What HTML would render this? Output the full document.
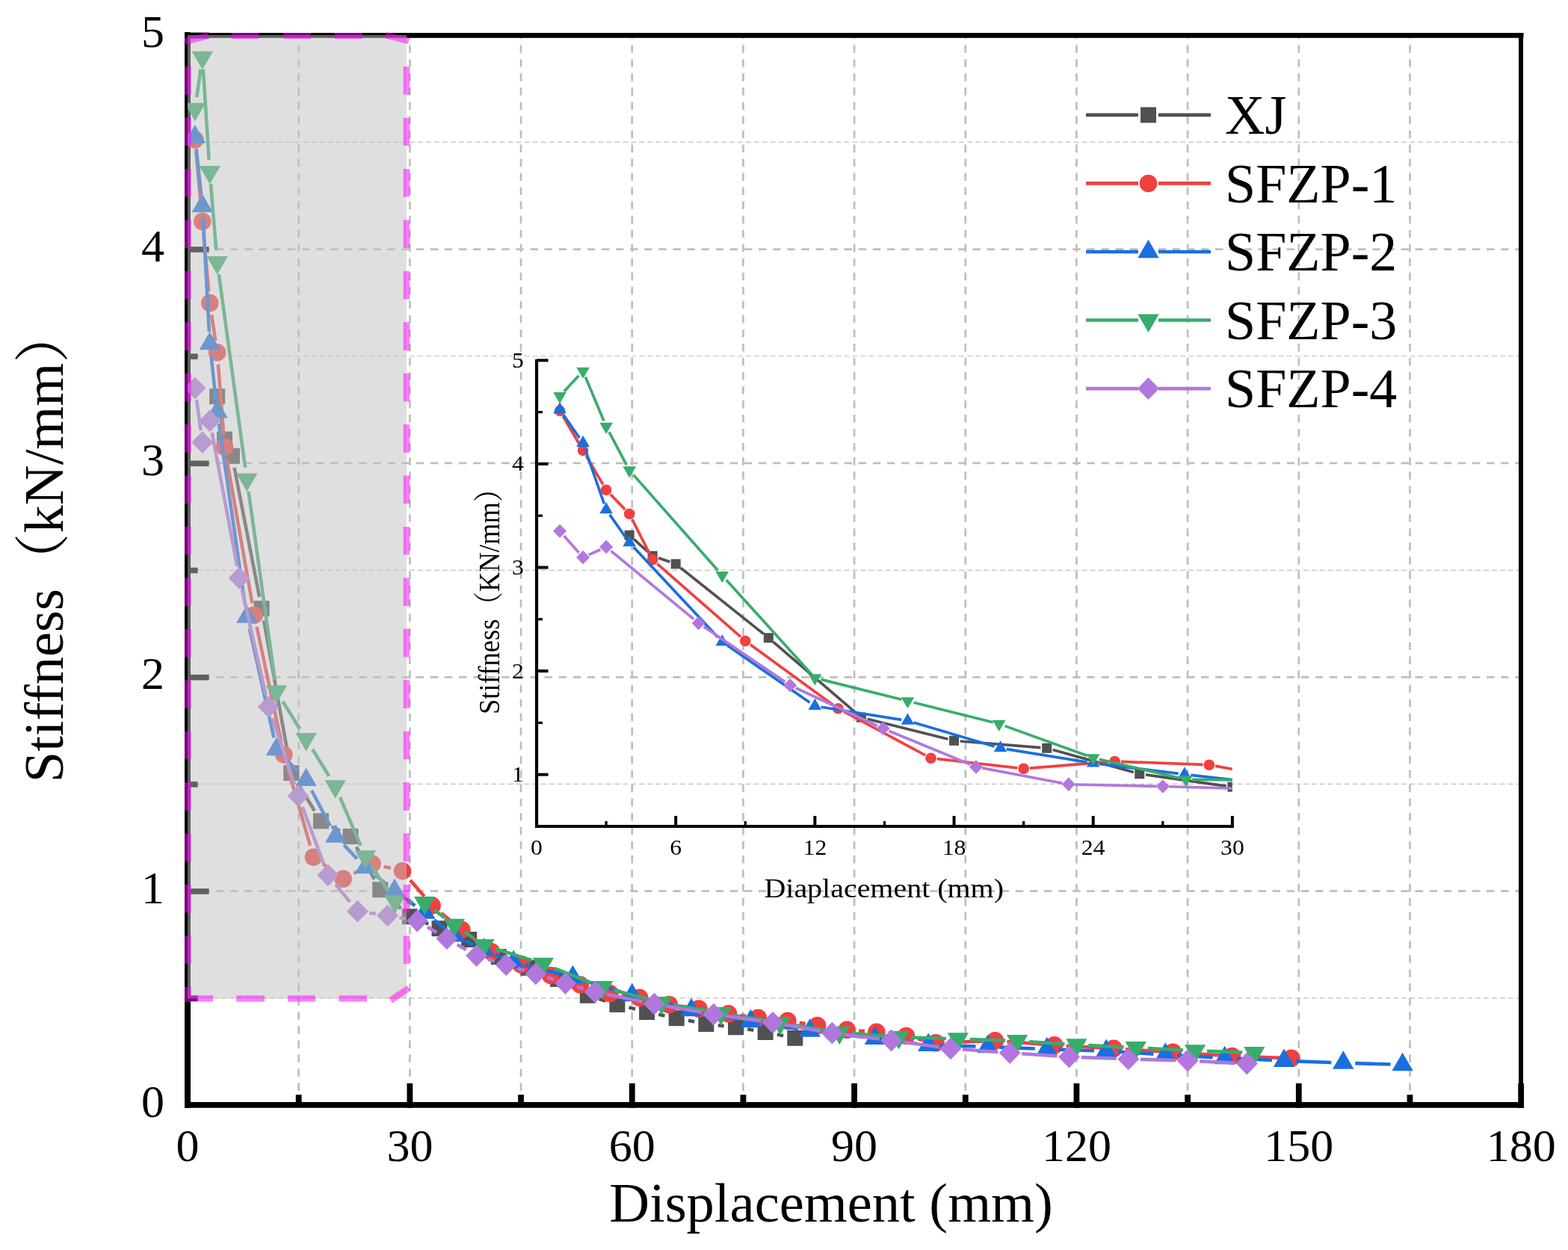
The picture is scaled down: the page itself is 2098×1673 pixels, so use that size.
<!DOCTYPE html>
<html lang="en"><head><meta charset="utf-8"><title>Stiffness vs Displacement</title>
<style>html,body{margin:0;padding:0;background:#fff;}body{width:2098px;height:1673px;overflow:hidden;}svg{display:block;}text{font-family:"Liberation Serif","Noto Serif CJK SC",serif;fill:#000;}</style></head><body>
<svg width="2098" height="1673" viewBox="0 0 2098 1673" role="img" aria-label="Stiffness versus displacement chart">
<rect width="2098" height="1673" fill="#fff"/>
<defs>
<clipPath id="cm"><rect x="251" y="47" width="1784" height="1432"/></clipPath>
<clipPath id="ci"><rect x="718.0" y="470" width="930.80" height="636.0"/></clipPath>
</defs>
<g id="grid"><line x1="399.68" y1="1479" x2="399.68" y2="47" stroke="#BEBEBE" stroke-width="2.7" stroke-dasharray="10.5 8.53"/>
<line x1="548.36" y1="1479" x2="548.36" y2="47" stroke="#BEBEBE" stroke-width="2.7" stroke-dasharray="10.5 8.53"/>
<line x1="697.04" y1="1479" x2="697.04" y2="47" stroke="#BEBEBE" stroke-width="2.7" stroke-dasharray="10.5 8.53"/>
<line x1="845.72" y1="1479" x2="845.72" y2="47" stroke="#BEBEBE" stroke-width="2.7" stroke-dasharray="10.5 8.53"/>
<line x1="994.40" y1="1479" x2="994.40" y2="47" stroke="#BEBEBE" stroke-width="2.7" stroke-dasharray="10.5 8.53"/>
<line x1="1143.08" y1="1479" x2="1143.08" y2="47" stroke="#BEBEBE" stroke-width="2.7" stroke-dasharray="10.5 8.53"/>
<line x1="1291.76" y1="1479" x2="1291.76" y2="47" stroke="#BEBEBE" stroke-width="2.7" stroke-dasharray="10.5 8.53"/>
<line x1="1440.44" y1="1479" x2="1440.44" y2="47" stroke="#BEBEBE" stroke-width="2.7" stroke-dasharray="10.5 8.53"/>
<line x1="1589.12" y1="1479" x2="1589.12" y2="47" stroke="#BEBEBE" stroke-width="2.7" stroke-dasharray="10.5 8.53"/>
<line x1="1737.80" y1="1479" x2="1737.80" y2="47" stroke="#BEBEBE" stroke-width="2.7" stroke-dasharray="10.5 8.53"/>
<line x1="1886.48" y1="1479" x2="1886.48" y2="47" stroke="#BEBEBE" stroke-width="2.7" stroke-dasharray="10.5 8.53"/>
<line x1="251" y1="1335.82" x2="2035" y2="1335.82" stroke="#BEBEBE" stroke-width="1.2" stroke-dasharray="6.7 4.27" stroke-dashoffset="-1"/>
<line x1="251" y1="1192.64" x2="2035" y2="1192.64" stroke="#BEBEBE" stroke-width="2.7" stroke-dasharray="10.4 8.7"/>
<line x1="251" y1="1049.46" x2="2035" y2="1049.46" stroke="#BEBEBE" stroke-width="1.2" stroke-dasharray="6.7 4.27" stroke-dashoffset="-1"/>
<line x1="251" y1="906.28" x2="2035" y2="906.28" stroke="#BEBEBE" stroke-width="2.7" stroke-dasharray="10.4 8.7"/>
<line x1="251" y1="763.10" x2="2035" y2="763.10" stroke="#BEBEBE" stroke-width="1.2" stroke-dasharray="6.7 4.27" stroke-dashoffset="-1"/>
<line x1="251" y1="619.92" x2="2035" y2="619.92" stroke="#BEBEBE" stroke-width="2.7" stroke-dasharray="10.4 8.7"/>
<line x1="251" y1="476.74" x2="2035" y2="476.74" stroke="#BEBEBE" stroke-width="1.2" stroke-dasharray="6.7 4.27" stroke-dashoffset="-1"/>
<line x1="251" y1="333.56" x2="2035" y2="333.56" stroke="#BEBEBE" stroke-width="2.7" stroke-dasharray="10.4 8.7"/>
<line x1="251" y1="190.38" x2="2035" y2="190.38" stroke="#BEBEBE" stroke-width="1.2" stroke-dasharray="6.7 4.27" stroke-dashoffset="-1"/></g>
<g id="axes"><path d="M251 43V1482.6" stroke="#000" stroke-width="8" fill="none"/>
<path d="M247 47.45H2038.5" stroke="#000" stroke-width="6.7" fill="none"/>
<path d="M2035 44.1V1482.7" stroke="#000" stroke-width="6" fill="none"/>
<path d="M247 1478.9H2038.9" stroke="#000" stroke-width="7.75" fill="none"/>
<line x1="251.00" y1="1482.75" x2="251.00" y2="1450" stroke="#000" stroke-width="7.8"/>
<line x1="399.68" y1="1479" x2="399.68" y2="1465.2" stroke="#000" stroke-width="7.8"/>
<line x1="548.36" y1="1482.75" x2="548.36" y2="1450" stroke="#000" stroke-width="7.8"/>
<line x1="697.04" y1="1479" x2="697.04" y2="1465.2" stroke="#000" stroke-width="7.8"/>
<line x1="845.72" y1="1482.75" x2="845.72" y2="1450" stroke="#000" stroke-width="7.8"/>
<line x1="994.40" y1="1479" x2="994.40" y2="1465.2" stroke="#000" stroke-width="7.8"/>
<line x1="1143.08" y1="1482.75" x2="1143.08" y2="1450" stroke="#000" stroke-width="7.8"/>
<line x1="1291.76" y1="1479" x2="1291.76" y2="1465.2" stroke="#000" stroke-width="7.8"/>
<line x1="1440.44" y1="1482.75" x2="1440.44" y2="1450" stroke="#000" stroke-width="7.8"/>
<line x1="1589.12" y1="1479" x2="1589.12" y2="1465.2" stroke="#000" stroke-width="7.8"/>
<line x1="1737.80" y1="1482.75" x2="1737.80" y2="1450" stroke="#000" stroke-width="7.8"/>
<line x1="1886.48" y1="1479" x2="1886.48" y2="1465.2" stroke="#000" stroke-width="7.8"/>
<line x1="2035.16" y1="1482.75" x2="2035.16" y2="1450" stroke="#000" stroke-width="7.8"/>
<line x1="251" y1="1336.22" x2="264.6" y2="1336.22" stroke="#000" stroke-width="7.6"/>
<line x1="251" y1="1193.04" x2="279.6" y2="1193.04" stroke="#000" stroke-width="7.6"/>
<line x1="251" y1="1049.86" x2="264.6" y2="1049.86" stroke="#000" stroke-width="7.6"/>
<line x1="251" y1="906.68" x2="279.6" y2="906.68" stroke="#000" stroke-width="7.6"/>
<line x1="251" y1="763.50" x2="264.6" y2="763.50" stroke="#000" stroke-width="7.6"/>
<line x1="251" y1="620.32" x2="279.6" y2="620.32" stroke="#000" stroke-width="7.6"/>
<line x1="251" y1="477.14" x2="264.6" y2="477.14" stroke="#000" stroke-width="7.6"/>
<line x1="251" y1="333.96" x2="279.6" y2="333.96" stroke="#000" stroke-width="7.6"/>
<line x1="251" y1="190.78" x2="264.6" y2="190.78" stroke="#000" stroke-width="7.6"/>
<line x1="251" y1="47.60" x2="279.6" y2="47.60" stroke="#000" stroke-width="8"/></g>
<g id="main-series" clip-path="url(#cm)">
<path d="M293.37 546.43L297.84 572.34M313.52 625.92L347.07 798.84M352.96 830.29L386.93 1018.84M398.17 1048.20L421.01 1085.22M443.61 1106.23L454.87 1112.11M476.84 1133.48L500.93 1176.80M520.56 1201.53L536.51 1215.98M563.20 1232.71L573.17 1236.72M603.00 1248.30L612.67 1251.90M641.48 1265.55L653.48 1272.55M682.31 1286.16L691.95 1289.74M721.90 1300.99L731.65 1304.71M760.61 1318.14L772.24 1324.56M801.55 1336.97L810.59 1339.73M841.40 1348.35L850.04 1350.55M881.21 1357.74L889.52 1359.46M920.88 1365.83L929.15 1367.47M960.75 1372.29L968.58 1373.11M1000.26 1377.47L1008.36 1378.83M1039.84 1384.59L1048.08 1386.21" stroke="#515151" stroke-width="4.6" fill="none"/>
<rect x="280.15" y="520.16" width="21.00" height="21.00" fill="#515151"/>
<rect x="290.06" y="577.60" width="21.00" height="21.00" fill="#515151"/>
<rect x="299.97" y="599.71" width="21.00" height="21.00" fill="#515151"/>
<rect x="339.62" y="804.05" width="21.00" height="21.00" fill="#515151"/>
<rect x="379.27" y="1024.08" width="21.00" height="21.00" fill="#515151"/>
<rect x="418.92" y="1088.34" width="21.00" height="21.00" fill="#515151"/>
<rect x="458.56" y="1109.00" width="21.00" height="21.00" fill="#515151"/>
<rect x="498.21" y="1180.28" width="21.00" height="21.00" fill="#515151"/>
<rect x="537.86" y="1216.23" width="21.00" height="21.00" fill="#515151"/>
<rect x="577.51" y="1232.20" width="21.00" height="21.00" fill="#515151"/>
<rect x="617.16" y="1247.00" width="21.00" height="21.00" fill="#515151"/>
<rect x="656.80" y="1270.10" width="21.00" height="21.00" fill="#515151"/>
<rect x="696.45" y="1284.80" width="21.00" height="21.00" fill="#515151"/>
<rect x="736.10" y="1299.90" width="21.00" height="21.00" fill="#515151"/>
<rect x="775.75" y="1321.80" width="21.00" height="21.00" fill="#515151"/>
<rect x="815.40" y="1333.90" width="21.00" height="21.00" fill="#515151"/>
<rect x="855.04" y="1344.00" width="21.00" height="21.00" fill="#515151"/>
<rect x="894.69" y="1352.20" width="21.00" height="21.00" fill="#515151"/>
<rect x="934.34" y="1360.10" width="21.00" height="21.00" fill="#515151"/>
<rect x="973.99" y="1364.30" width="21.00" height="21.00" fill="#515151"/>
<rect x="1013.64" y="1371.00" width="21.00" height="21.00" fill="#515151"/>
<rect x="1053.28" y="1378.80" width="21.00" height="21.00" fill="#515151"/>
<path d="M262.35 202.80L269.38 280.44M272.27 312.30L279.29 389.73M283.11 421.49L288.28 455.96M291.90 487.73L299.31 582.48M303.34 614.19L337.43 807.47M343.53 838.87L376.53 994.35M384.30 1025.37L415.06 1131.82M432.40 1156.66L446.26 1166.84M473.35 1168.94L483.91 1163.45M513.66 1159.81L522.89 1162.04M548.87 1177.92L567.68 1199.86M590.49 1222.12L605.35 1234.28M630.61 1253.91L644.52 1264.19M672.07 1280.07L682.36 1284.53M712.05 1296.43L721.67 1299.97M751.95 1310.31L761.08 1313.19M791.69 1322.49L800.63 1325.11M831.82 1331.92L839.80 1333.08M871.22 1339.02L879.69 1340.98M911.13 1346.80L919.08 1347.90M950.70 1352.77L958.80 1354.13M990.43 1358.96L998.37 1360.04M1030.13 1363.89L1037.96 1364.71M1069.68 1368.87L1077.71 1370.13M1109.36 1374.88L1117.33 1376.02M1149.12 1379.55L1156.86 1380.15M1188.69 1383.44L1196.59 1384.46M1228.04 1390.15L1236.53 1392.15M1268.10 1395.20L1315.42 1393.40M1347.36 1394.01L1394.75 1397.59M1426.68 1399.73L1474.03 1402.47M1505.97 1404.37L1553.33 1407.23M1585.26 1409.27L1632.63 1412.43M1664.58 1414.06L1711.90 1415.74" stroke="#F14040" stroke-width="4.6" fill="none"/>
<circle cx="260.91" cy="186.87" r="11.80" fill="#F14040"/>
<circle cx="270.82" cy="296.37" r="11.80" fill="#F14040"/>
<circle cx="280.74" cy="405.67" r="11.80" fill="#F14040"/>
<circle cx="290.65" cy="471.78" r="11.80" fill="#F14040"/>
<circle cx="300.56" cy="598.43" r="11.80" fill="#F14040"/>
<circle cx="340.21" cy="823.22" r="11.80" fill="#F14040"/>
<circle cx="379.86" cy="1010.00" r="11.80" fill="#F14040"/>
<circle cx="419.50" cy="1147.19" r="11.80" fill="#F14040"/>
<circle cx="459.15" cy="1176.32" r="11.80" fill="#F14040"/>
<circle cx="498.11" cy="1156.07" r="11.80" fill="#F14040"/>
<circle cx="538.45" cy="1165.78" r="11.80" fill="#F14040"/>
<circle cx="578.10" cy="1212.00" r="11.80" fill="#F14040"/>
<circle cx="617.74" cy="1244.40" r="11.80" fill="#F14040"/>
<circle cx="657.39" cy="1273.70" r="11.80" fill="#F14040"/>
<circle cx="697.04" cy="1290.90" r="11.80" fill="#F14040"/>
<circle cx="736.69" cy="1305.50" r="11.80" fill="#F14040"/>
<circle cx="776.34" cy="1318.00" r="11.80" fill="#F14040"/>
<circle cx="815.98" cy="1329.60" r="11.80" fill="#F14040"/>
<circle cx="855.63" cy="1335.40" r="11.80" fill="#F14040"/>
<circle cx="895.28" cy="1344.60" r="11.80" fill="#F14040"/>
<circle cx="934.93" cy="1350.10" r="11.80" fill="#F14040"/>
<circle cx="974.58" cy="1356.80" r="11.80" fill="#F14040"/>
<circle cx="1014.22" cy="1362.20" r="11.80" fill="#F14040"/>
<circle cx="1053.87" cy="1366.40" r="11.80" fill="#F14040"/>
<circle cx="1093.52" cy="1372.60" r="11.80" fill="#F14040"/>
<circle cx="1133.17" cy="1378.30" r="11.80" fill="#F14040"/>
<circle cx="1172.82" cy="1381.40" r="11.80" fill="#F14040"/>
<circle cx="1212.46" cy="1386.50" r="11.80" fill="#F14040"/>
<circle cx="1252.11" cy="1395.80" r="11.80" fill="#F14040"/>
<circle cx="1331.41" cy="1392.80" r="11.80" fill="#F14040"/>
<circle cx="1410.70" cy="1398.80" r="11.80" fill="#F14040"/>
<circle cx="1490.00" cy="1403.40" r="11.80" fill="#F14040"/>
<circle cx="1569.30" cy="1408.20" r="11.80" fill="#F14040"/>
<circle cx="1648.59" cy="1413.50" r="11.80" fill="#F14040"/>
<circle cx="1727.89" cy="1416.30" r="11.80" fill="#F14040"/>
<path d="M262.62 199.26L269.12 259.80M271.68 291.69L279.88 444.03M282.46 475.91L288.92 535.42M292.94 567.16L328.01 809.87M333.79 841.32L366.45 987.36M381.08 1014.46L398.46 1032.39M417.02 1058.05L441.81 1105.33M460.29 1131.07L477.84 1149.46M501.42 1170.97L515.41 1182.07M540.83 1201.50L555.29 1212.12M580.82 1231.42L595.20 1242.58M622.26 1259.31L633.05 1264.49M662.25 1277.55L672.36 1281.75M702.64 1291.83L750.91 1304.07M781.74 1312.63L830.41 1327.37M861.23 1335.91L909.50 1348.09M940.74 1354.97L988.59 1364.03M1020.11 1369.51L1067.81 1377.09M1099.50 1381.48L1154.94 1388.02M1186.71 1391.88L1226.32 1396.82M1258.19 1399.24L1305.50 1400.56M1337.48 1401.65L1384.81 1403.55M1416.78 1404.72L1464.10 1406.28M1496.06 1407.77L1543.41 1410.63M1575.36 1412.49L1622.70 1415.11M1654.66 1416.77L1701.99 1419.03M1733.97 1420.38L1781.28 1422.12M1813.27 1423.16L1860.57 1424.54" stroke="#1A6FDF" stroke-width="4.6" fill="none"/>
<polygon points="260.91,167.02 246.71,191.52 275.11,191.52" fill="#1A6FDF"/>
<polygon points="270.82,259.38 256.62,283.88 285.02,283.88" fill="#1A6FDF"/>
<polygon points="280.74,443.67 266.54,468.17 294.94,468.17" fill="#1A6FDF"/>
<polygon points="290.65,534.99 276.45,559.49 304.85,559.49" fill="#1A6FDF"/>
<polygon points="330.30,809.37 316.10,833.87 344.50,833.87" fill="#1A6FDF"/>
<polygon points="369.94,986.64 355.74,1011.14 384.14,1011.14" fill="#1A6FDF"/>
<polygon points="409.59,1027.55 395.39,1052.05 423.79,1052.05" fill="#1A6FDF"/>
<polygon points="449.24,1103.17 435.04,1127.67 463.44,1127.67" fill="#1A6FDF"/>
<polygon points="488.89,1144.70 474.69,1169.20 503.09,1169.20" fill="#1A6FDF"/>
<polygon points="527.94,1175.69 513.74,1200.19 542.14,1200.19" fill="#1A6FDF"/>
<polygon points="568.18,1205.27 553.98,1229.77 582.38,1229.77" fill="#1A6FDF"/>
<polygon points="607.83,1236.07 593.63,1260.57 622.03,1260.57" fill="#1A6FDF"/>
<polygon points="647.48,1255.07 633.28,1279.57 661.68,1279.57" fill="#1A6FDF"/>
<polygon points="687.13,1271.57 672.93,1296.07 701.33,1296.07" fill="#1A6FDF"/>
<polygon points="766.42,1291.67 752.22,1316.17 780.62,1316.17" fill="#1A6FDF"/>
<polygon points="845.72,1315.67 831.52,1340.17 859.92,1340.17" fill="#1A6FDF"/>
<polygon points="925.02,1335.67 910.82,1360.17 939.22,1360.17" fill="#1A6FDF"/>
<polygon points="1004.31,1350.67 990.11,1375.17 1018.51,1375.17" fill="#1A6FDF"/>
<polygon points="1083.61,1363.27 1069.41,1387.77 1097.81,1387.77" fill="#1A6FDF"/>
<polygon points="1170.83,1373.57 1156.63,1398.07 1185.03,1398.07" fill="#1A6FDF"/>
<polygon points="1242.20,1382.47 1228.00,1406.97 1256.40,1406.97" fill="#1A6FDF"/>
<polygon points="1321.50,1384.67 1307.30,1409.17 1335.70,1409.17" fill="#1A6FDF"/>
<polygon points="1400.79,1387.87 1386.59,1412.37 1414.99,1412.37" fill="#1A6FDF"/>
<polygon points="1480.09,1390.47 1465.89,1414.97 1494.29,1414.97" fill="#1A6FDF"/>
<polygon points="1559.38,1395.27 1545.18,1419.77 1573.58,1419.77" fill="#1A6FDF"/>
<polygon points="1638.68,1399.67 1624.48,1424.17 1652.88,1424.17" fill="#1A6FDF"/>
<polygon points="1717.98,1403.47 1703.78,1427.97 1732.18,1427.97" fill="#1A6FDF"/>
<polygon points="1797.27,1406.37 1783.07,1430.87 1811.47,1430.87" fill="#1A6FDF"/>
<polygon points="1876.57,1408.67 1862.37,1433.17 1890.77,1433.17" fill="#1A6FDF"/>
<path d="M263.19 130.12L268.55 92.79M271.86 92.92L279.70 214.29M282.04 246.20L289.34 335.18M292.81 366.97L328.13 625.76M332.51 657.46L367.73 909.65M378.40 939.07L401.13 975.55M418.00 1002.74L440.24 1038.74M454.94 1067.06L482.59 1131.65M497.70 1159.72L519.73 1193.13M544.52 1207.13L552.20 1207.45M580.97 1217.71L595.04 1228.29M621.03 1246.95L634.29 1256.05M662.75 1269.89L711.51 1285.21M741.66 1295.86L791.18 1315.34M821.54 1325.30L869.90 1338.10M901.13 1344.96L948.90 1353.34M980.45 1358.69L1028.17 1366.51M1059.76 1371.63L1107.46 1379.27M1139.21 1383.07L1186.60 1386.83M1218.55 1388.56L1265.85 1389.94M1297.84 1390.96L1345.15 1392.64M1377.11 1394.25L1424.47 1397.35M1456.42 1399.17L1503.75 1401.43M1535.71 1403.03L1583.05 1405.47M1615.02 1406.86L1662.34 1408.54" stroke="#37AD6B" stroke-width="4.6" fill="none"/>
<polygon points="260.91,162.29 246.71,137.79 275.11,137.79" fill="#37AD6B"/>
<polygon points="270.82,93.29 256.62,68.79 285.02,68.79" fill="#37AD6B"/>
<polygon points="280.74,246.59 266.54,222.09 294.94,222.09" fill="#37AD6B"/>
<polygon points="290.65,367.46 276.45,342.96 304.85,342.96" fill="#37AD6B"/>
<polygon points="330.30,657.95 316.10,633.45 344.50,633.45" fill="#37AD6B"/>
<polygon points="369.94,941.83 355.74,917.33 384.14,917.33" fill="#37AD6B"/>
<polygon points="409.59,1005.46 395.39,980.96 423.79,980.96" fill="#37AD6B"/>
<polygon points="448.65,1068.69 434.45,1044.19 462.85,1044.19" fill="#37AD6B"/>
<polygon points="488.89,1162.69 474.69,1138.19 503.09,1138.19" fill="#37AD6B"/>
<polygon points="528.54,1222.82 514.34,1198.32 542.74,1198.32" fill="#37AD6B"/>
<polygon points="568.18,1224.43 553.98,1199.93 582.38,1199.93" fill="#37AD6B"/>
<polygon points="607.83,1254.23 593.63,1229.73 622.03,1229.73" fill="#37AD6B"/>
<polygon points="647.48,1281.43 633.28,1256.93 661.68,1256.93" fill="#37AD6B"/>
<polygon points="726.78,1306.33 712.58,1281.83 740.98,1281.83" fill="#37AD6B"/>
<polygon points="806.07,1337.53 791.87,1313.03 820.27,1313.03" fill="#37AD6B"/>
<polygon points="885.37,1358.53 871.17,1334.03 899.57,1334.03" fill="#37AD6B"/>
<polygon points="964.66,1372.43 950.46,1347.93 978.86,1347.93" fill="#37AD6B"/>
<polygon points="1043.96,1385.43 1029.76,1360.93 1058.16,1360.93" fill="#37AD6B"/>
<polygon points="1123.26,1398.13 1109.06,1373.63 1137.46,1373.63" fill="#37AD6B"/>
<polygon points="1202.55,1404.43 1188.35,1379.93 1216.75,1379.93" fill="#37AD6B"/>
<polygon points="1281.85,1406.73 1267.65,1382.23 1296.05,1382.23" fill="#37AD6B"/>
<polygon points="1361.14,1409.53 1346.94,1385.03 1375.34,1385.03" fill="#37AD6B"/>
<polygon points="1440.44,1414.73 1426.24,1390.23 1454.64,1390.23" fill="#37AD6B"/>
<polygon points="1519.74,1418.53 1505.54,1394.03 1533.94,1394.03" fill="#37AD6B"/>
<polygon points="1599.03,1422.63 1584.83,1398.13 1613.23,1398.13" fill="#37AD6B"/>
<polygon points="1678.33,1425.43 1664.13,1400.93 1692.53,1400.93" fill="#37AD6B"/>
<path d="M263.07 535.15L268.66 576.17M283.69 579.03L317.24 757.91M323.73 789.24L355.79 930.35M364.40 961.13L394.02 1049.98M404.69 1080.15L433.22 1156.37M448.96 1183.74L468.25 1207.32M494.23 1221.90L502.78 1223.09M534.37 1228.15L542.53 1229.64M572.01 1240.71L584.19 1247.99M611.78 1264.20L623.71 1271.10M652.86 1283.81L661.92 1286.59M692.52 1295.97L701.56 1298.73M732.11 1308.25L741.26 1311.15M771.86 1320.53L780.81 1323.17M811.85 1330.85L859.77 1340.45M891.21 1346.38L939.00 1354.82M970.60 1359.80L1018.20 1366.40M1049.80 1371.40L1097.59 1379.90M1129.22 1384.66L1176.76 1390.54M1208.49 1394.68L1256.09 1401.22M1287.89 1404.55L1335.27 1407.95M1367.20 1410.19L1414.56 1413.41M1446.52 1415.08L1493.83 1416.82M1525.82 1417.84L1573.13 1419.16M1605.10 1420.39L1652.44 1422.71" stroke="#B177DE" stroke-width="4.6" fill="none"/>
<polygon points="260.91,504.40 275.41,519.30 260.91,534.20 246.41,519.30" fill="#B177DE"/>
<polygon points="270.82,577.13 285.32,592.03 270.82,606.93 256.32,592.03" fill="#B177DE"/>
<polygon points="280.74,548.41 295.24,563.31 280.74,578.21 266.24,563.31" fill="#B177DE"/>
<polygon points="320.19,758.74 334.69,773.64 320.19,788.54 305.69,773.64" fill="#B177DE"/>
<polygon points="359.34,931.05 373.84,945.95 359.34,960.85 344.84,945.95" fill="#B177DE"/>
<polygon points="399.09,1050.26 413.59,1065.16 399.09,1080.06 384.59,1065.16" fill="#B177DE"/>
<polygon points="438.83,1156.46 453.33,1171.36 438.83,1186.26 424.33,1171.36" fill="#B177DE"/>
<polygon points="478.38,1204.81 492.88,1219.71 478.38,1234.61 463.88,1219.71" fill="#B177DE"/>
<polygon points="518.62,1210.38 533.12,1225.28 518.62,1240.18 504.12,1225.28" fill="#B177DE"/>
<polygon points="558.27,1217.60 572.77,1232.50 558.27,1247.40 543.77,1232.50" fill="#B177DE"/>
<polygon points="597.92,1241.30 612.42,1256.20 597.92,1271.10 583.42,1256.20" fill="#B177DE"/>
<polygon points="637.57,1264.20 652.07,1279.10 637.57,1294.00 623.07,1279.10" fill="#B177DE"/>
<polygon points="677.22,1276.40 691.72,1291.30 677.22,1306.20 662.72,1291.30" fill="#B177DE"/>
<polygon points="716.86,1288.50 731.36,1303.40 716.86,1318.30 702.36,1303.40" fill="#B177DE"/>
<polygon points="756.51,1301.10 771.01,1316.00 756.51,1330.90 742.01,1316.00" fill="#B177DE"/>
<polygon points="796.16,1312.80 810.66,1327.70 796.16,1342.60 781.66,1327.70" fill="#B177DE"/>
<polygon points="875.46,1328.70 889.96,1343.60 875.46,1358.50 860.96,1343.60" fill="#B177DE"/>
<polygon points="954.75,1342.70 969.25,1357.60 954.75,1372.50 940.25,1357.60" fill="#B177DE"/>
<polygon points="1034.05,1353.70 1048.55,1368.60 1034.05,1383.50 1019.55,1368.60" fill="#B177DE"/>
<polygon points="1113.34,1367.80 1127.84,1382.70 1113.34,1397.60 1098.84,1382.70" fill="#B177DE"/>
<polygon points="1192.64,1377.60 1207.14,1392.50 1192.64,1407.40 1178.14,1392.50" fill="#B177DE"/>
<polygon points="1271.94,1388.50 1286.44,1403.40 1271.94,1418.30 1257.44,1403.40" fill="#B177DE"/>
<polygon points="1351.23,1394.20 1365.73,1409.10 1351.23,1424.00 1336.73,1409.10" fill="#B177DE"/>
<polygon points="1430.53,1399.60 1445.03,1414.50 1430.53,1429.40 1416.03,1414.50" fill="#B177DE"/>
<polygon points="1509.82,1402.50 1524.32,1417.40 1509.82,1432.30 1495.32,1417.40" fill="#B177DE"/>
<polygon points="1589.12,1404.70 1603.62,1419.60 1589.12,1434.50 1574.62,1419.60" fill="#B177DE"/>
<polygon points="1668.42,1408.60 1682.92,1423.50 1668.42,1438.40 1653.92,1423.50" fill="#B177DE"/>
</g>
<g id="zoom-region"><rect x="251" y="47" width="293" height="1289.6" fill="#C0C0C0" fill-opacity="0.5"/>
<path d="M251.5 89.1V126.7M544 89.1V126.7M251.5 157.5V195.1M544 157.5V195.1M251.5 226.0V263.6M544 226.0V263.6M251.5 294.4V332.0M544 294.4V332.0M251.5 362.8V400.4M544 362.8V400.4M251.5 431.2V468.9M544 431.2V468.9M251.5 499.7V537.3M544 499.7V537.3M251.5 568.1V605.7M544 568.1V605.7M251.5 636.5V674.1M544 636.5V674.1M251.5 705.0V742.6M544 705.0V742.6M251.5 773.4V811.0M544 773.4V811.0M251.5 841.8V879.4M544 841.8V879.4M251.5 910.3V947.9M544 910.3V947.9M251.5 978.7V1016.3M544 978.7V1016.3M251.5 1047.1V1084.7M544 1047.1V1084.7M251.5 1115.5V1153.1M544 1115.5V1153.1M251.5 1184.0V1221.6M544 1184.0V1221.6M251.5 1252.4V1290.0M544 1252.4V1290.0M251.5 1321V1341M256 1336.5H285M316.2 1336.5H353.9M385 1336.5H421.8M453.6 1336.5H491M247.6 55.6L278.8 47.6M515.9 47.2L547 54.9M522.6 1338.8L547 1322.5" stroke="#FF00FF" stroke-opacity="0.5" stroke-width="8.6" fill="none"/>
<path d="M309.8 48.05H346.6M379.3 48.05H416.1M447.6 48.05H485" stroke="#FF00FF" stroke-opacity="0.5" stroke-width="7.9" fill="none"/></g>
<g id="labels"><text transform="translate(251.0 1553.8) scale(1 1)" font-size="62" text-anchor="middle">0</text>
<text transform="translate(548.4 1553.8) scale(1 1)" font-size="62" text-anchor="middle">30</text>
<text transform="translate(845.7 1553.8) scale(1 1)" font-size="62" text-anchor="middle">60</text>
<text transform="translate(1143.1 1553.8) scale(1 1)" font-size="62" text-anchor="middle">90</text>
<text transform="translate(1440.4 1553.8) scale(1 1)" font-size="62" text-anchor="middle">120</text>
<text transform="translate(1737.8 1553.8) scale(1 1)" font-size="62" text-anchor="middle">150</text>
<text transform="translate(2035.2 1553.8) scale(1 1)" font-size="62" text-anchor="middle">180</text>
<text transform="translate(204.5 1495.0) scale(1 1)" font-size="62" text-anchor="middle">0</text>
<text transform="translate(204.5 1208.6) scale(1 1)" font-size="62" text-anchor="middle">1</text>
<text transform="translate(204.5 922.3) scale(1 1)" font-size="62" text-anchor="middle">2</text>
<text transform="translate(204.5 635.9) scale(1 1)" font-size="62" text-anchor="middle">3</text>
<text transform="translate(204.5 349.6) scale(1 1)" font-size="62" text-anchor="middle">4</text>
<text transform="translate(204.5 63.2) scale(1 1)" font-size="62" text-anchor="middle">5</text>
<text x="1112" y="1635" font-size="74.5" text-anchor="middle">Displacement (mm)</text>
<text transform="translate(83.9 1047.3) rotate(-90)" font-size="74.5">Stiffness（kN/mm）</text></g>
<g id="legend"><path d="M1453 153.9H1523M1550 153.9H1620" stroke="#515151" stroke-width="4.6"/>
<rect x="1526.00" y="143.40" width="21.00" height="21.00" fill="#515151"/>
<text x="1639" y="179.2" font-size="74">XJ</text>
<path d="M1453 245.4H1523M1550 245.4H1620" stroke="#F14040" stroke-width="4.6"/>
<circle cx="1536.50" cy="245.45" r="11.80" fill="#F14040"/>
<text x="1639" y="270.8" font-size="74">SFZP-1</text>
<path d="M1453 337.0H1523M1550 337.0H1620" stroke="#1A6FDF" stroke-width="4.6"/>
<polygon points="1536.50,320.67 1522.30,345.17 1550.70,345.17" fill="#1A6FDF"/>
<text x="1639" y="362.3" font-size="74">SFZP-2</text>
<path d="M1453 428.5H1523M1550 428.5H1620" stroke="#37AD6B" stroke-width="4.6"/>
<polygon points="1536.50,444.88 1522.30,420.38 1550.70,420.38" fill="#37AD6B"/>
<text x="1639" y="453.8" font-size="74">SFZP-3</text>
<path d="M1453 520.1H1523M1550 520.1H1620" stroke="#B177DE" stroke-width="4.6"/>
<polygon points="1536.50,505.20 1551.00,520.10 1536.50,535.00 1522.00,520.10" fill="#B177DE"/>
<text x="1639" y="545.4" font-size="74">SFZP-4</text></g>
<g id="inset">
<g clip-path="url(#ci)">
<path d="M848.30 721.84L866.97 738.56M881.00 746.81L896.33 752.09M910.67 759.97L1021.81 848.53M1034.60 859.10L1146.12 954.80M1160.47 962.22L1268.49 989.28M1284.81 991.97L1392.39 1000.63M1408.66 1003.52L1516.78 1033.58M1533.00 1036.95L1640.68 1052.05M1657.18 1053.72L1764.74 1060.41M1781.31 1061.41L1888.85 1067.61M1905.41 1068.84L2012.99 1078.53M2029.55 1079.75L2137.09 1085.91M2153.67 1086.88L2261.21 1093.21M2277.77 1094.40L2385.35 1103.59M2401.91 1104.69L2509.45 1109.76M2526.03 1110.48L2633.57 1114.71M2650.16 1115.31L2757.68 1118.74M2774.28 1119.27L2881.80 1122.58M2898.40 1122.97L3005.92 1124.73M3022.52 1125.08L3130.04 1127.89M3146.64 1128.36L3254.16 1131.63" stroke="#515151" stroke-width="3.7" fill="none"/>
<rect x="835.61" y="709.79" width="13.02" height="13.02" fill="#515151"/>
<rect x="866.64" y="737.59" width="13.02" height="13.02" fill="#515151"/>
<rect x="897.67" y="748.29" width="13.02" height="13.02" fill="#515151"/>
<rect x="1021.79" y="847.19" width="13.02" height="13.02" fill="#515151"/>
<rect x="1145.91" y="953.69" width="13.02" height="13.02" fill="#515151"/>
<rect x="1270.03" y="984.79" width="13.02" height="13.02" fill="#515151"/>
<rect x="1394.15" y="994.79" width="13.02" height="13.02" fill="#515151"/>
<rect x="1518.27" y="1029.29" width="13.02" height="13.02" fill="#515151"/>
<rect x="1642.39" y="1046.69" width="13.02" height="13.02" fill="#515151"/>
<rect x="1766.51" y="1054.42" width="13.02" height="13.02" fill="#515151"/>
<rect x="1890.63" y="1061.58" width="13.02" height="13.02" fill="#515151"/>
<rect x="2014.75" y="1072.76" width="13.02" height="13.02" fill="#515151"/>
<rect x="2138.87" y="1079.88" width="13.02" height="13.02" fill="#515151"/>
<rect x="2262.99" y="1087.19" width="13.02" height="13.02" fill="#515151"/>
<rect x="2387.11" y="1097.79" width="13.02" height="13.02" fill="#515151"/>
<rect x="2511.23" y="1103.64" width="13.02" height="13.02" fill="#515151"/>
<rect x="2635.35" y="1108.53" width="13.02" height="13.02" fill="#515151"/>
<rect x="2759.47" y="1112.50" width="13.02" height="13.02" fill="#515151"/>
<rect x="2883.59" y="1116.32" width="13.02" height="13.02" fill="#515151"/>
<rect x="3007.71" y="1118.36" width="13.02" height="13.02" fill="#515151"/>
<rect x="3131.83" y="1121.60" width="13.02" height="13.02" fill="#515151"/>
<rect x="3255.95" y="1125.37" width="13.02" height="13.02" fill="#515151"/>
<path d="M753.22 557.06L775.87 595.74M784.26 610.06L806.89 648.64M816.87 661.76L836.34 681.84M845.87 695.21L869.40 741.69M879.39 754.57L991.03 852.43M1003.98 862.79L1114.68 943.41M1128.71 952.22L1238.19 1010.78M1253.76 1015.64L1361.38 1027.86M1377.90 1028.14L1483.30 1019.66M1499.87 1019.31L1609.58 1023.39M1626.04 1025.17L1733.82 1044.60M1750.22 1047.11L1857.88 1060.71M1874.36 1062.69L1981.98 1074.99M1998.51 1076.49L2106.07 1083.70M2122.64 1084.73L2230.18 1090.85M2246.76 1091.73L2354.30 1096.97M2370.88 1097.75L2478.42 1102.61M2495.01 1103.18L2602.53 1105.61M2619.12 1106.09L2726.66 1109.95M2743.25 1110.43L2850.77 1112.73M2867.37 1113.13L2974.89 1115.94M2991.49 1116.33L3099.01 1118.59M3115.61 1118.90L3223.13 1120.66M3239.73 1121.00L3347.25 1123.60M3363.85 1123.99L3471.37 1126.38M3487.97 1126.66L3595.49 1127.96M3612.09 1128.23L3719.61 1130.36M3736.20 1130.83L3843.74 1134.73M3860.33 1134.98L4091.97 1133.63M4108.57 1133.68L4340.21 1136.39M4356.81 1136.56L4588.45 1138.63M4605.05 1138.79L4836.69 1140.95M4853.29 1141.12L5084.93 1143.51M5101.53 1143.64L5333.17 1144.91" stroke="#F14040" stroke-width="3.7" fill="none"/>
<circle cx="749.03" cy="549.90" r="7.32" fill="#F14040"/>
<circle cx="780.06" cy="602.90" r="7.32" fill="#F14040"/>
<circle cx="811.09" cy="655.80" r="7.32" fill="#F14040"/>
<circle cx="842.12" cy="687.80" r="7.32" fill="#F14040"/>
<circle cx="873.15" cy="749.10" r="7.32" fill="#F14040"/>
<circle cx="997.27" cy="857.90" r="7.32" fill="#F14040"/>
<circle cx="1121.39" cy="948.30" r="7.32" fill="#F14040"/>
<circle cx="1245.51" cy="1014.70" r="7.32" fill="#F14040"/>
<circle cx="1369.63" cy="1028.80" r="7.32" fill="#F14040"/>
<circle cx="1491.58" cy="1019.00" r="7.32" fill="#F14040"/>
<circle cx="1617.87" cy="1023.70" r="7.32" fill="#F14040"/>
<circle cx="1741.99" cy="1046.07" r="7.32" fill="#F14040"/>
<circle cx="1866.11" cy="1061.75" r="7.32" fill="#F14040"/>
<circle cx="1990.23" cy="1075.93" r="7.32" fill="#F14040"/>
<circle cx="2114.35" cy="1084.26" r="7.32" fill="#F14040"/>
<circle cx="2238.47" cy="1091.32" r="7.32" fill="#F14040"/>
<circle cx="2362.59" cy="1097.38" r="7.32" fill="#F14040"/>
<circle cx="2486.71" cy="1102.99" r="7.32" fill="#F14040"/>
<circle cx="2610.83" cy="1105.80" r="7.32" fill="#F14040"/>
<circle cx="2734.95" cy="1110.25" r="7.32" fill="#F14040"/>
<circle cx="2859.07" cy="1112.91" r="7.32" fill="#F14040"/>
<circle cx="2983.19" cy="1116.15" r="7.32" fill="#F14040"/>
<circle cx="3107.31" cy="1118.77" r="7.32" fill="#F14040"/>
<circle cx="3231.43" cy="1120.80" r="7.32" fill="#F14040"/>
<circle cx="3355.55" cy="1123.80" r="7.32" fill="#F14040"/>
<circle cx="3479.67" cy="1126.56" r="7.32" fill="#F14040"/>
<circle cx="3603.79" cy="1128.06" r="7.32" fill="#F14040"/>
<circle cx="3727.91" cy="1130.53" r="7.32" fill="#F14040"/>
<circle cx="3852.03" cy="1135.03" r="7.32" fill="#F14040"/>
<circle cx="4100.27" cy="1133.58" r="7.32" fill="#F14040"/>
<circle cx="4348.51" cy="1136.48" r="7.32" fill="#F14040"/>
<circle cx="4596.75" cy="1138.71" r="7.32" fill="#F14040"/>
<circle cx="4844.99" cy="1141.03" r="7.32" fill="#F14040"/>
<circle cx="5093.23" cy="1143.60" r="7.32" fill="#F14040"/>
<circle cx="5341.47" cy="1144.95" r="7.32" fill="#F14040"/>
<path d="M753.76 555.02L775.33 586.08M782.79 600.74L808.36 674.26M815.86 688.89L837.35 719.51M847.79 732.36L960.57 853.04M973.07 863.82L1083.53 940.18M1098.56 946.21L1206.28 963.39M1222.44 967.05L1330.64 998.95M1346.79 1002.63L1454.53 1020.07M1470.96 1022.41L1576.74 1035.39M1593.23 1037.34L1702.71 1049.78M1719.20 1051.71L1826.84 1064.63M1843.36 1066.24L1950.92 1074.21M1967.48 1075.35L2075.04 1082.27M2091.61 1083.13L2323.27 1092.21M2339.85 1092.92L2571.51 1103.76M2588.09 1104.47L2819.75 1113.51M2836.34 1114.07L3067.98 1120.85M3084.58 1121.30L3316.22 1126.99M3332.82 1127.34L3589.29 1132.02M3605.88 1132.34L3812.70 1136.32M3829.30 1136.52L4060.94 1137.51M4077.54 1137.60L4309.18 1139.04M4325.78 1139.14L4557.42 1140.31M4574.02 1140.43L4805.66 1142.60M4822.26 1142.75L5053.90 1144.74M5070.50 1144.87L5302.14 1146.59M5318.74 1146.69L5550.38 1148.00M5566.98 1148.09L5798.62 1149.13" stroke="#1A6FDF" stroke-width="3.7" fill="none"/>
<polygon points="749.03,538.07 740.23,553.26 757.83,553.26" fill="#1A6FDF"/>
<polygon points="780.06,582.77 771.26,597.96 788.86,597.96" fill="#1A6FDF"/>
<polygon points="811.09,671.97 802.29,687.16 819.89,687.16" fill="#1A6FDF"/>
<polygon points="842.12,716.17 833.32,731.36 850.92,731.36" fill="#1A6FDF"/>
<polygon points="966.24,848.97 957.44,864.16 975.04,864.16" fill="#1A6FDF"/>
<polygon points="1090.36,934.77 1081.56,949.96 1099.16,949.96" fill="#1A6FDF"/>
<polygon points="1214.48,954.57 1205.68,969.76 1223.28,969.76" fill="#1A6FDF"/>
<polygon points="1338.60,991.17 1329.80,1006.36 1347.40,1006.36" fill="#1A6FDF"/>
<polygon points="1462.72,1011.27 1453.92,1026.46 1471.52,1026.46" fill="#1A6FDF"/>
<polygon points="1584.98,1026.27 1576.17,1041.46 1593.78,1041.46" fill="#1A6FDF"/>
<polygon points="1710.96,1040.59 1702.16,1055.78 1719.76,1055.78" fill="#1A6FDF"/>
<polygon points="1835.08,1055.50 1826.28,1070.69 1843.88,1070.69" fill="#1A6FDF"/>
<polygon points="1959.20,1064.69 1950.40,1079.88 1968.00,1079.88" fill="#1A6FDF"/>
<polygon points="2083.32,1072.68 2074.52,1087.87 2092.12,1087.87" fill="#1A6FDF"/>
<polygon points="2331.56,1082.41 2322.76,1097.60 2340.36,1097.60" fill="#1A6FDF"/>
<polygon points="2579.80,1094.02 2571.00,1109.21 2588.60,1109.21" fill="#1A6FDF"/>
<polygon points="2828.04,1103.70 2819.24,1118.89 2836.84,1118.89" fill="#1A6FDF"/>
<polygon points="3076.28,1110.96 3067.48,1126.15 3085.08,1126.15" fill="#1A6FDF"/>
<polygon points="3324.52,1117.06 3315.72,1132.25 3333.32,1132.25" fill="#1A6FDF"/>
<polygon points="3597.58,1122.05 3588.78,1137.24 3606.39,1137.24" fill="#1A6FDF"/>
<polygon points="3821.00,1126.36 3812.20,1141.55 3829.80,1141.55" fill="#1A6FDF"/>
<polygon points="4069.24,1127.42 4060.44,1142.61 4078.04,1142.61" fill="#1A6FDF"/>
<polygon points="4317.48,1128.97 4308.68,1144.16 4326.28,1144.16" fill="#1A6FDF"/>
<polygon points="4565.72,1130.23 4556.92,1145.42 4574.52,1145.42" fill="#1A6FDF"/>
<polygon points="4813.96,1132.55 4805.16,1147.74 4822.76,1147.74" fill="#1A6FDF"/>
<polygon points="5062.20,1134.68 5053.40,1149.87 5071.00,1149.87" fill="#1A6FDF"/>
<polygon points="5310.44,1136.52 5301.64,1151.71 5319.24,1151.71" fill="#1A6FDF"/>
<polygon points="5558.68,1137.92 5549.88,1153.11 5567.48,1153.11" fill="#1A6FDF"/>
<polygon points="5806.92,1139.04 5798.12,1154.23 5815.72,1154.23" fill="#1A6FDF"/>
<path d="M754.68 524.02L774.41 502.78M783.26 504.36L807.89 563.24M814.98 578.23L838.23 622.07M847.61 635.62L960.75 763.78M971.80 776.16L1084.80 901.24M1098.42 909.40L1206.42 936.20M1222.53 940.22L1328.69 966.78M1344.54 971.62L1454.91 1011.48M1470.80 1016.19L1578.76 1041.51M1595.14 1043.45L1702.66 1044.13M1719.20 1045.14L1826.84 1057.65M1843.33 1059.48L1950.95 1070.90M1967.49 1072.17L2199.15 1083.42M2215.72 1084.33L2447.40 1098.42M2463.97 1099.26L2695.63 1108.75M2712.22 1109.31L2943.86 1115.59M2960.46 1116.03L3192.10 1121.90M3208.70 1122.31L3440.34 1128.05M3456.94 1128.36L3688.58 1131.20M3705.18 1131.34L3936.82 1132.38M3953.42 1132.46L4185.06 1133.73M4201.66 1133.86L4433.30 1136.20M4449.90 1136.35L4681.54 1138.07M4698.14 1138.19L4929.78 1140.05M4946.38 1140.16L5178.02 1141.42" stroke="#37AD6B" stroke-width="3.7" fill="none"/>
<polygon points="749.03,540.23 740.23,525.04 757.83,525.04" fill="#37AD6B"/>
<polygon points="780.06,506.83 771.26,491.64 788.86,491.64" fill="#37AD6B"/>
<polygon points="811.09,581.03 802.29,565.84 819.89,565.84" fill="#37AD6B"/>
<polygon points="842.12,639.53 833.32,624.34 850.92,624.34" fill="#37AD6B"/>
<polygon points="966.24,780.13 957.44,764.94 975.04,764.94" fill="#37AD6B"/>
<polygon points="1090.36,917.53 1081.56,902.34 1099.16,902.34" fill="#37AD6B"/>
<polygon points="1214.48,948.33 1205.68,933.14 1223.28,933.14" fill="#37AD6B"/>
<polygon points="1336.74,978.93 1327.93,963.74 1345.54,963.74" fill="#37AD6B"/>
<polygon points="1462.72,1024.43 1453.92,1009.24 1471.52,1009.24" fill="#37AD6B"/>
<polygon points="1586.84,1053.53 1578.04,1038.34 1595.64,1038.34" fill="#37AD6B"/>
<polygon points="1710.96,1054.31 1702.16,1039.12 1719.76,1039.12" fill="#37AD6B"/>
<polygon points="1835.08,1068.73 1826.28,1053.54 1843.88,1053.54" fill="#37AD6B"/>
<polygon points="1959.20,1081.90 1950.40,1066.71 1968.00,1066.71" fill="#37AD6B"/>
<polygon points="2207.44,1093.95 2198.64,1078.76 2216.24,1078.76" fill="#37AD6B"/>
<polygon points="2455.68,1109.05 2446.88,1093.86 2464.48,1093.86" fill="#37AD6B"/>
<polygon points="2703.92,1119.21 2695.12,1104.02 2712.72,1104.02" fill="#37AD6B"/>
<polygon points="2952.16,1125.94 2943.36,1110.75 2960.96,1110.75" fill="#37AD6B"/>
<polygon points="3200.40,1132.23 3191.60,1117.04 3209.20,1117.04" fill="#37AD6B"/>
<polygon points="3448.64,1138.38 3439.84,1123.19 3457.44,1123.19" fill="#37AD6B"/>
<polygon points="3696.88,1141.43 3688.08,1126.24 3705.68,1126.24" fill="#37AD6B"/>
<polygon points="3945.12,1142.54 3936.32,1127.35 3953.92,1127.35" fill="#37AD6B"/>
<polygon points="4193.36,1143.90 4184.56,1128.71 4202.16,1128.71" fill="#37AD6B"/>
<polygon points="4441.60,1146.42 4432.80,1131.23 4450.40,1131.23" fill="#37AD6B"/>
<polygon points="4689.84,1148.25 4681.04,1133.06 4698.64,1133.06" fill="#37AD6B"/>
<polygon points="4938.08,1150.24 4929.28,1135.05 4946.88,1135.05" fill="#37AD6B"/>
<polygon points="5186.32,1151.59 5177.52,1136.40 5195.12,1136.40" fill="#37AD6B"/>
<path d="M754.52 717.03L774.57 739.77M787.63 742.61L803.52 735.49M817.49 737.38L928.18 828.62M941.45 838.57L1050.30 912.63M1064.69 920.79L1174.06 971.51M1189.26 978.17L1298.35 1023.23M1314.17 1027.94L1421.67 1048.26M1438.13 1049.98L1547.51 1052.32M1564.11 1052.73L1671.63 1055.76M1688.19 1056.76L1795.79 1066.70M1812.32 1068.20L1919.90 1077.81M1936.46 1078.94L2044.00 1084.06M2060.58 1084.84L2168.12 1089.92M2184.70 1090.72L2292.24 1096.00M2308.82 1096.79L2416.36 1101.69M2432.95 1102.33L2664.59 1109.51M2681.19 1109.99L2912.83 1116.32M2929.43 1116.72L3161.07 1121.69M3177.67 1122.09L3409.31 1128.46M3425.91 1128.85L3657.55 1133.27M3674.15 1133.61L3905.79 1138.53M3922.39 1138.80L4154.03 1141.38M4170.63 1141.56L4402.27 1143.99M4418.87 1144.13L4650.51 1145.44M4667.11 1145.52L4898.75 1146.51M4915.35 1146.61L5146.99 1148.37" stroke="#B177DE" stroke-width="3.7" fill="none"/>
<polygon points="749.03,701.56 758.02,710.80 749.03,720.04 740.04,710.80" fill="#B177DE"/>
<polygon points="780.06,736.76 789.05,746.00 780.06,755.24 771.07,746.00" fill="#B177DE"/>
<polygon points="811.09,722.86 820.08,732.10 811.09,741.34 802.10,732.10" fill="#B177DE"/>
<polygon points="934.59,824.66 943.58,833.90 934.59,843.14 925.60,833.90" fill="#B177DE"/>
<polygon points="1057.16,908.06 1066.15,917.30 1057.16,926.54 1048.17,917.30" fill="#B177DE"/>
<polygon points="1181.59,965.76 1190.58,975.00 1181.59,984.24 1172.60,975.00" fill="#B177DE"/>
<polygon points="1306.02,1017.16 1315.01,1026.40 1306.02,1035.64 1297.03,1026.40" fill="#B177DE"/>
<polygon points="1429.83,1040.56 1438.82,1049.80 1429.83,1059.04 1420.84,1049.80" fill="#B177DE"/>
<polygon points="1555.81,1043.26 1564.80,1052.50 1555.81,1061.74 1546.82,1052.50" fill="#B177DE"/>
<polygon points="1679.93,1046.75 1688.92,1055.99 1679.93,1065.23 1670.94,1055.99" fill="#B177DE"/>
<polygon points="1804.05,1058.23 1813.04,1067.46 1804.05,1076.70 1795.06,1067.46" fill="#B177DE"/>
<polygon points="1928.17,1069.31 1937.16,1078.55 1928.17,1087.79 1919.18,1078.55" fill="#B177DE"/>
<polygon points="2052.29,1075.21 2061.28,1084.45 2052.29,1093.69 2043.30,1084.45" fill="#B177DE"/>
<polygon points="2176.41,1081.07 2185.40,1090.31 2176.41,1099.55 2167.42,1090.31" fill="#B177DE"/>
<polygon points="2300.53,1087.17 2309.52,1096.41 2300.53,1105.64 2291.54,1096.41" fill="#B177DE"/>
<polygon points="2424.65,1092.83 2433.64,1102.07 2424.65,1111.31 2415.66,1102.07" fill="#B177DE"/>
<polygon points="2672.89,1100.53 2681.88,1109.77 2672.89,1119.00 2663.90,1109.77" fill="#B177DE"/>
<polygon points="2921.13,1107.30 2930.12,1116.54 2921.13,1125.78 2912.14,1116.54" fill="#B177DE"/>
<polygon points="3169.37,1112.63 3178.36,1121.87 3169.37,1131.10 3160.38,1121.87" fill="#B177DE"/>
<polygon points="3417.61,1119.45 3426.60,1128.69 3417.61,1137.93 3408.62,1128.69" fill="#B177DE"/>
<polygon points="3665.85,1124.20 3674.84,1133.43 3665.85,1142.67 3656.86,1133.43" fill="#B177DE"/>
<polygon points="3914.09,1129.47 3923.08,1138.71 3914.09,1147.95 3905.10,1138.71" fill="#B177DE"/>
<polygon points="4162.33,1132.23 4171.32,1141.47 4162.33,1150.71 4153.34,1141.47" fill="#B177DE"/>
<polygon points="4410.57,1134.84 4419.56,1144.08 4410.57,1153.32 4401.58,1144.08" fill="#B177DE"/>
<polygon points="4658.81,1136.25 4667.80,1145.49 4658.81,1154.72 4649.82,1145.49" fill="#B177DE"/>
<polygon points="4907.05,1137.31 4916.04,1146.55 4907.05,1155.79 4898.06,1146.55" fill="#B177DE"/>
<polygon points="5155.29,1139.20 5164.28,1148.44 5155.29,1157.68 5146.30,1148.44" fill="#B177DE"/>
</g>
<path d="M718 481V1106H1651" stroke="#000" stroke-width="4.2" fill="none" stroke-linejoin="miter"/>
<line x1="718.00" y1="1106" x2="718.00" y2="1092" stroke="#000" stroke-width="4"/>
<line x1="811.09" y1="1106" x2="811.09" y2="1099" stroke="#000" stroke-width="3.2"/>
<line x1="904.18" y1="1106" x2="904.18" y2="1092" stroke="#000" stroke-width="4"/>
<line x1="997.27" y1="1106" x2="997.27" y2="1099" stroke="#000" stroke-width="3.2"/>
<line x1="1090.36" y1="1106" x2="1090.36" y2="1092" stroke="#000" stroke-width="4"/>
<line x1="1183.45" y1="1106" x2="1183.45" y2="1099" stroke="#000" stroke-width="3.2"/>
<line x1="1276.54" y1="1106" x2="1276.54" y2="1092" stroke="#000" stroke-width="4"/>
<line x1="1369.63" y1="1106" x2="1369.63" y2="1099" stroke="#000" stroke-width="3.2"/>
<line x1="1462.72" y1="1106" x2="1462.72" y2="1092" stroke="#000" stroke-width="4"/>
<line x1="1555.81" y1="1106" x2="1555.81" y2="1099" stroke="#000" stroke-width="3.2"/>
<line x1="1648.90" y1="1106" x2="1648.90" y2="1092" stroke="#000" stroke-width="4"/>
<line x1="718" y1="1036.70" x2="733.5" y2="1036.70" stroke="#000" stroke-width="4"/>
<line x1="718" y1="967.40" x2="726" y2="967.40" stroke="#000" stroke-width="3.2"/>
<line x1="718" y1="898.10" x2="733.5" y2="898.10" stroke="#000" stroke-width="4"/>
<line x1="718" y1="828.80" x2="726" y2="828.80" stroke="#000" stroke-width="3.2"/>
<line x1="718" y1="759.50" x2="733.5" y2="759.50" stroke="#000" stroke-width="4"/>
<line x1="718" y1="690.20" x2="726" y2="690.20" stroke="#000" stroke-width="3.2"/>
<line x1="718" y1="620.90" x2="733.5" y2="620.90" stroke="#000" stroke-width="4"/>
<line x1="718" y1="551.60" x2="726" y2="551.60" stroke="#000" stroke-width="3.2"/>
<line x1="718" y1="482.30" x2="733.5" y2="482.30" stroke="#000" stroke-width="4"/>
<text transform="translate(718.0 1143.5) scale(1.1 1)" font-size="28.8" text-anchor="middle">0</text>
<text transform="translate(904.2 1143.5) scale(1.1 1)" font-size="28.8" text-anchor="middle">6</text>
<text transform="translate(1090.4 1143.5) scale(1.1 1)" font-size="28.8" text-anchor="middle">12</text>
<text transform="translate(1276.5 1143.5) scale(1.1 1)" font-size="28.8" text-anchor="middle">18</text>
<text transform="translate(1462.7 1143.5) scale(1.1 1)" font-size="28.8" text-anchor="middle">24</text>
<text transform="translate(1648.9 1143.5) scale(1.1 1)" font-size="28.8" text-anchor="middle">30</text>
<text transform="translate(693 1046.2) scale(1.1 1)" font-size="28.8" text-anchor="middle">1</text>
<text transform="translate(693 907.6) scale(1.1 1)" font-size="28.8" text-anchor="middle">2</text>
<text transform="translate(693 769.0) scale(1.1 1)" font-size="28.8" text-anchor="middle">3</text>
<text transform="translate(693 630.4) scale(1.1 1)" font-size="28.8" text-anchor="middle">4</text>
<text transform="translate(693 491.8) scale(1.1 1)" font-size="28.8" text-anchor="middle">5</text>
<text transform="translate(1182.7 1200.7) scale(1.11 1)" font-size="36" text-anchor="middle">Diaplacement (mm)</text>
<text transform="translate(667.9 956) rotate(-90) scale(1 1.1)" font-size="36.6">Stiffness（KN/mm）</text>
</g>
</svg></body></html>
